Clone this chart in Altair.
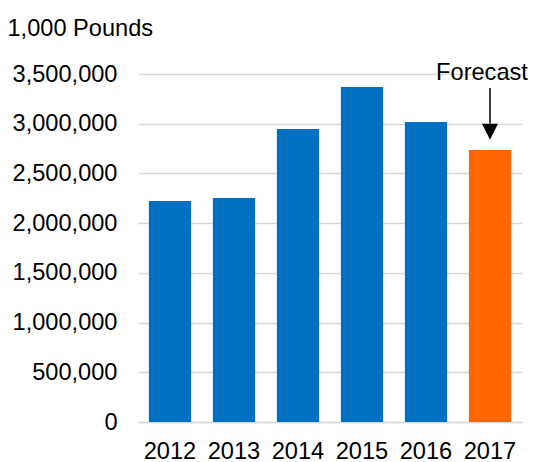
import altair as alt
import pandas as pd

years = ["2012", "2013", "2014", "2015", "2016", "2017"]
values = [2222000, 2253000, 2947000, 3369000, 3017000, 2735000]
kinds = ["Actual", "Actual", "Actual", "Actual", "Actual", "Forecast"]
y_ticks = [0, 500000, 1000000, 1500000, 2000000, 2500000, 3000000, 3500000]

df = pd.DataFrame({"year": years, "value": values, "kind": kinds})

# annotation (in data units)
ann_year = "2017"
ann_text_y = 3510000
ann_arrow_top = 3360000
ann_arrow_bottom = 3000000
ann_head_y = 2920000

FONT = "Liberation Sans"
GRID = "#D9D9D9"
FS = 23.6

x_scale = alt.Scale(domain=years, paddingInner=0.34, paddingOuter=0.17)
y_scale = alt.Scale(domain=[0, 3500000], nice=False)

bars = alt.Chart(df).mark_bar().encode(
    x=alt.X("year:N", scale=x_scale, sort=years,
            axis=alt.Axis(title=None, labelAngle=0, ticks=False, domainColor=GRID,
                          domainWidth=1.5, labelFontSize=FS, labelFont=FONT,
                          labelColor="#000000", labelPadding=17)),
    y=alt.Y("value:Q", scale=y_scale,
            axis=alt.Axis(title="1,000 Pounds", titleAngle=0, titleX=-131, titleY=-46,
                          titleAlign="left", titleBaseline="middle", titleFontSize=FS,
                          titleFont=FONT, titleFontWeight="normal", titleColor="#000000",
                          values=y_ticks, format=",d", domain=False, ticks=False,
                          gridColor=GRID, gridWidth=1.5, labelFontSize=FS, labelFont=FONT,
                          labelColor="#000000", labelPadding=21)),
    color=alt.Color("kind:N", scale=alt.Scale(domain=["Actual", "Forecast"],
                                              range=["#0070C0", "#FF6600"]), legend=None),
)

ann_df = pd.DataFrame({
    "year": [ann_year], "label": ["Forecast"], "ty": [ann_text_y],
    "a1": [ann_arrow_top], "a2": [ann_arrow_bottom], "hy": [ann_head_y],
})
ann = alt.Chart(ann_df)
text = ann.mark_text(font=FONT, fontSize=FS, color="#000000", dx=-8,
                     baseline="middle", align="center").encode(
    x=alt.X("year:N", scale=x_scale, sort=years), y=alt.Y("ty:Q", scale=y_scale), text="label:N")
rule = ann.mark_rule(color="#000000", strokeWidth=1.5).encode(
    x=alt.X("year:N", scale=x_scale, sort=years), y=alt.Y("a1:Q", scale=y_scale),
    y2="a2:Q")
head = ann.mark_point(shape="M-1,-1L1,-1L0,1Z", size=256, filled=True, opacity=1,
                      color="#000000").encode(
    x=alt.X("year:N", scale=x_scale, sort=years), y=alt.Y("hy:Q", scale=y_scale))

chart = alt.layer(bars, rule, head, text).properties(
    width=384, height=348,
    autosize=alt.AutoSizeParams(type="none"),
    padding={"left": 138, "top": 74, "right": 12, "bottom": 40},
    background="#FFFFFF",
).configure_view(stroke=None)

chart.save("out.html", embed_options={"renderer": "svg", "actions": False})
